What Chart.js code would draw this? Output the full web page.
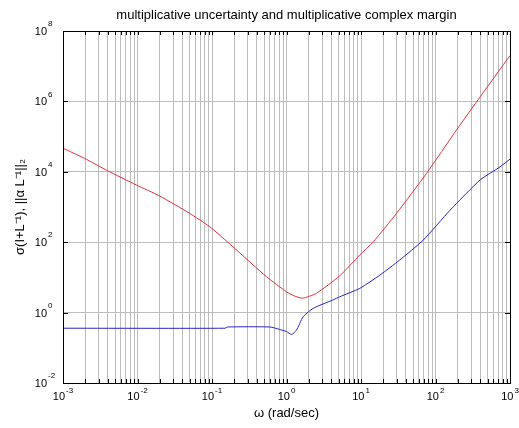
<!DOCTYPE html>
<html>
<head>
<meta charset="utf-8">
<script src="https://cdn.jsdelivr.net/npm/chart.js@4.4.0/dist/chart.umd.min.js"></script>
<style>
  html, body { margin: 0; padding: 0; background: #fff; }
</style>
</head>
<body>
<canvas id="c" width="519" height="428"></canvas>
<script>
// curves (omega in rad/sec, magnitude)
const redOmega = [0.001, 0.00195, 0.00398, 0.00964, 0.02, 0.05, 0.0933, 0.191, 0.538, 1, 1.26, 1.64, 2.53, 5.2, 9.66, 14.6, 30, 76, 193, 398, 1000];
const redMag   = [4.68e4, 2.4e4, 1.07e4, 4.22e3, 2.04e3, 661, 275, 74, 10.5, 3.89, 3.0, 2.57, 3.55, 11.2, 43.6, 102, 661, 9.1e3, 1.58e5, 1.35e6, 2.0e7];

const blueOmega = [0.001, 0.15, 0.16, 0.6, 0.8, 1.0, 1.17, 1.36, 1.67, 2.28, 4.2, 5.2, 9.66, 18, 33, 68.5, 157, 398, 735, 1000];
const blueMag   = [0.36, 0.36, 0.39, 0.39, 0.335, 0.29, 0.24, 0.316, 0.76, 1.32, 2.29, 2.82, 4.9, 11.7, 31, 115, 813, 5890, 1.38e4, 2.3e4];

// axis decades
const xDecades = [-3, -2, -1, 0, 1, 2, 3];
const yDecades = [-2, 0, 2, 4, 6, 8];

const TITLE = 'multiplicative uncertainty and multiplicative complex margin';
const FONT = '"Liberation Sans", Arial, Helvetica, sans-serif';

const xTicks = [];
for (const d of xDecades.slice(0, -1)) {
  for (let m = 1; m <= 9; m++) xTicks.push(m * Math.pow(10, d));
}
xTicks.push(Math.pow(10, xDecades[xDecades.length - 1]));
const yTicks = yDecades.map(d => Math.pow(10, d));

function drawPower(ctx, exp, x0, yMid, mode, raise) {
  const base = '10';
  const sup = String(exp);
  ctx.font = '11px ' + FONT;
  const wb = ctx.measureText(base).width;
  ctx.font = '8px ' + FONT;
  const ws = ctx.measureText(sup).width;
  const left = mode === 'center' ? x0 - (wb + ws + 1) / 2 : x0 - wb;
  ctx.textBaseline = 'middle';
  ctx.textAlign = 'left';
  ctx.font = '11px ' + FONT;
  ctx.fillText(base, left, yMid);
  ctx.font = '8px ' + FONT;
  ctx.fillText(sup, left + wb + 1, yMid - raise);
}

// title, box, inward ticks and 10^n tick labels
const frame = {
  id: 'frame',
  afterDraw(chart) {
    const { ctx, chartArea: a, scales: { x, y } } = chart;
    ctx.save();
    ctx.strokeStyle = '#000';
    ctx.lineWidth = 1;
    ctx.beginPath();
    for (const v of xTicks) {
      const px = Math.round(x.getPixelForValue(v)) + 0.5;
      ctx.moveTo(px, a.bottom); ctx.lineTo(px, a.bottom - 4);
      ctx.moveTo(px, a.top); ctx.lineTo(px, a.top + 4);
    }
    for (const v of yTicks) {
      const py = Math.round(y.getPixelForValue(v)) + 0.5;
      ctx.moveTo(a.left, py); ctx.lineTo(a.left + 5, py);
      ctx.moveTo(a.right, py); ctx.lineTo(a.right - 5, py);
    }
    ctx.stroke();
    ctx.strokeRect(Math.round(a.left) + 0.5, Math.round(a.top) + 0.5,
                   Math.round(a.right - a.left), Math.round(a.bottom - a.top));

    ctx.fillStyle = '#000';
    ctx.font = '13px ' + FONT;
    ctx.textAlign = 'center';
    ctx.textBaseline = 'middle';
    ctx.fillText(TITLE, (a.left + a.right) / 2, 15);

    for (const d of xDecades) {
      drawPower(ctx, d, x.getPixelForValue(Math.pow(10, d)), a.bottom + 14, 'center', 6);
    }
    for (const d of yDecades) {
      drawPower(ctx, d, a.left - 16, y.getPixelForValue(Math.pow(10, d)) + 1, 'right', 8);
    }
    ctx.restore();
  },
};

const pts = (xs, ys) => xs.map((w, i) => ({ x: w, y: ys[i] }));

new Chart(document.getElementById('c'), {
  type: 'line',
  data: {
    datasets: [
      { data: pts(redOmega, redMag), borderColor: '#e0303c', borderWidth: 1, pointRadius: 0, tension: 0.2 },
      { data: pts(blueOmega, blueMag), borderColor: '#2424c8', borderWidth: 1, pointRadius: 0, tension: 0.2 },
    ],
  },
  options: {
    responsive: false,
    animation: false,
    layout: { padding: { left: 0, right: 9, top: 31, bottom: 0 } },
    plugins: {
      legend: { display: false },
      tooltip: { enabled: false },
      title: { display: false },
    },
    scales: {
      x: {
        type: 'logarithmic',
        min: 1e-3,
        max: 1e3,
        afterBuildTicks: (s) => { s.ticks = xTicks.map(v => ({ value: v })); },
        afterFit: (s) => { s.height = 45; },
        ticks: { display: false },
        grid: { color: '#bdbdbd', drawTicks: false },
        border: { display: false },
        title: {
          display: true,
          text: 'ω (rad/sec)',
          color: '#000',
          font: { family: FONT, size: 13 },
          padding: { top: 0, bottom: 6.7 },
        },
      },
      y: {
        type: 'logarithmic',
        min: 1e-2,
        max: 1e8,
        afterBuildTicks: (s) => { s.ticks = yTicks.map(v => ({ value: v })); },
        afterFit: (s) => { s.width = 63; },
        ticks: { display: false },
        grid: { color: '#bdbdbd', drawTicks: false },
        border: { display: false },
        title: {
          display: true,
          text: 'σ(I+L⁻¹), ||α L⁻¹||₂',
          color: '#000',
          font: { family: FONT, size: 13 },
          padding: { top: 12.2, bottom: 0 },
        },
      },
    },
  },
  plugins: [frame],
});
</script>
</body>
</html>
